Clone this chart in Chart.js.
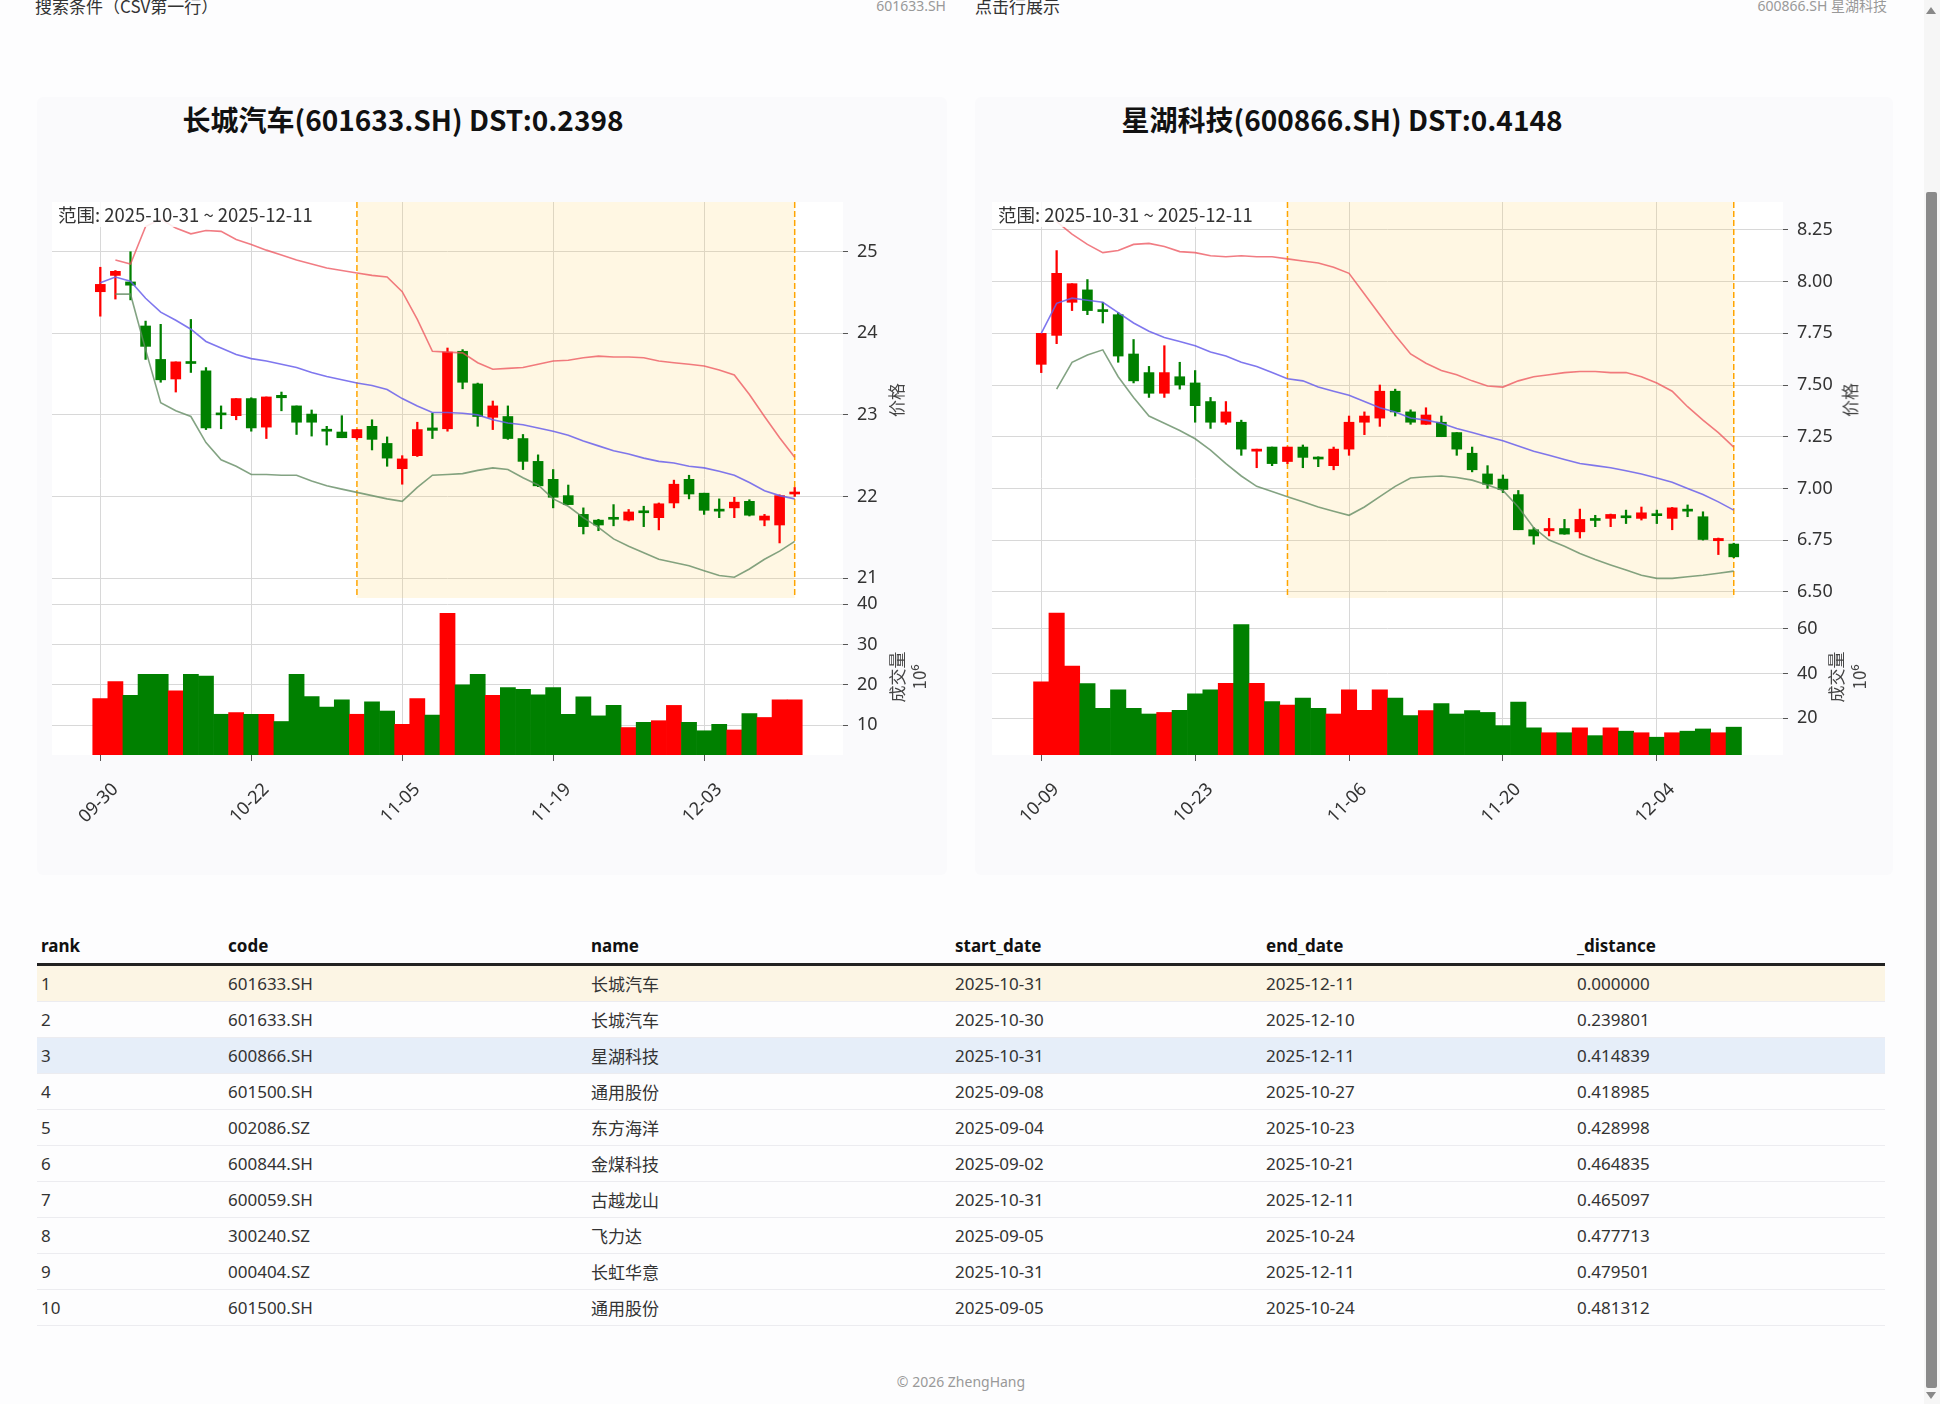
<!DOCTYPE html>
<html><head><meta charset="utf-8">
<script src="https://cdn.jsdelivr.net/npm/chart.js@4.4.1/dist/chart.umd.min.js"></script>
<style>
html,body{margin:0;padding:0;}
body{width:1940px;height:1404px;overflow:hidden;position:relative;background:#fdfdfe;font-family:'Noto Sans','Noto Sans CJK SC',sans-serif;color:#222;}
.abs{position:absolute;white-space:nowrap;}
.card{position:absolute;background:#fafafc;border-radius:6px;}
.title{position:absolute;font-family:'Noto Sans CJK SC','Noto Sans',sans-serif;font-weight:700;font-size:28px;color:#111;transform:translate(-50%,-50%);white-space:nowrap;}
.rot{position:absolute;transform:translate(-50%,-50%) rotate(-90deg);white-space:nowrap;font-family:'Noto Sans CJK SC','Noto Sans',sans-serif;color:#444;font-size:17px;}
canvas{position:absolute;}
table{position:absolute;left:37px;top:928px;width:1848px;border-collapse:collapse;table-layout:fixed;font-size:17px;font-family:'Noto Sans','Noto Sans CJK SC',sans-serif;}
th{text-align:left;font-weight:700;height:35px;padding:0 0 0 4px;border-bottom:3px solid #222;color:#111;}
td{height:35px;padding:0 0 0 4px;border-bottom:1px solid #ececf0;color:#333;}
</style></head>
<body>
<div class="abs" style="left:35px;top:-6px;font-size:17px;line-height:24px;color:#333;font-family:'Noto Sans CJK SC',sans-serif;">搜索条件（CSV第一行）</div>
<div class="abs" style="right:994px;top:-4px;font-size:14px;line-height:20px;color:#999;">601633.SH</div>
<div class="abs" style="left:975px;top:-6px;font-size:17px;line-height:24px;color:#333;font-family:'Noto Sans CJK SC',sans-serif;">点击行展示</div>
<div class="abs" style="right:53px;top:-4px;font-size:14px;line-height:20px;color:#999;font-family:'Noto Sans','Noto Sans CJK SC',sans-serif;">600866.SH 星湖科技</div>

<div class="card" style="left:37px;top:97px;width:910px;height:778px;"></div>
<div class="card" style="left:975px;top:97px;width:918px;height:778px;"></div>

<div class="title" style="left:403px;top:119px;">长城汽车(601633.SH) DST:0.2398</div>
<div class="title" style="left:1342px;top:119px;">星湖科技(600866.SH) DST:0.4148</div>

<canvas id="c1" width="870" height="640" style="left:40px;top:190px;"></canvas>
<canvas id="c2" width="870" height="640" style="left:980px;top:190px;"></canvas>

<div class="rot" style="left:895px;top:400px;">价格</div>
<div class="rot" style="left:896px;top:677px;">成交量</div>
<div class="rot" style="left:918px;top:677px;">10⁶</div>
<div class="rot" style="left:1849px;top:400px;">价格</div>
<div class="rot" style="left:1835px;top:677px;">成交量</div>
<div class="rot" style="left:1858px;top:677px;">10⁶</div>

<table id="tbl"></table>

<div class="abs" style="left:961px;top:1381px;transform:translate(-50%,-50%);font-size:14px;color:#999;">© 2026 ZhengHang</div>

<div style="position:absolute;left:1924px;top:0;width:16px;height:1404px;background:#f6f6f6;"></div>
<div style="position:absolute;left:1926px;top:192px;width:11px;height:1196px;background:#8a8a8a;border-radius:2px;"></div>
<div style="position:absolute;left:1926px;top:7px;width:0;height:0;border-left:5px solid transparent;border-right:5px solid transparent;border-bottom:7px solid #888;"></div>
<div style="position:absolute;left:1926px;top:1392px;width:0;height:0;border-left:5px solid transparent;border-right:5px solid transparent;border-top:7px solid #888;"></div>

<script>
// ---------------- DATA: 长城汽车 601633.SH ----------------
const L_DATES = ['09-30','10-09','10-10','10-13','10-14','10-15','10-16','10-17','10-20','10-21','10-22','10-23','10-24','10-27','10-28','10-29','10-30','10-31','11-03','11-04','11-05','11-06','11-07','11-10','11-11','11-12','11-13','11-14','11-17','11-18','11-19','11-20','11-21','11-24','11-25','11-26','11-27','11-28','12-01','12-02','12-03','12-04','12-05','12-08','12-09','12-10','12-11'];
const L_OPEN  = [24.51,24.71,24.63,24.09,23.68,23.44,23.65,23.54,23.01,22.99,23.20,22.85,23.24,23.11,23.01,22.82,22.79,22.72,22.86,22.65,22.34,22.50,22.84,22.83,23.78,23.38,22.97,22.98,22.71,22.43,22.21,22.01,21.78,21.71,21.73,21.71,21.81,21.74,21.92,22.21,22.04,21.83,21.86,21.94,21.71,21.65,22.03];
const L_HIGH  = [24.81,24.77,25.00,24.15,24.11,23.65,24.17,23.58,23.11,23.20,23.21,23.22,23.28,23.11,23.06,22.86,22.99,22.82,22.94,22.73,22.50,22.91,23.02,23.82,23.80,23.39,23.17,23.11,22.76,22.51,22.33,22.14,21.86,21.72,21.90,21.84,21.88,21.92,22.20,22.26,22.04,21.97,21.99,21.96,21.78,22.02,22.11];
const L_LOW   = [24.21,24.42,24.41,23.68,23.40,23.28,23.52,22.82,22.83,22.94,22.80,22.71,23.05,22.76,22.74,22.63,22.72,22.70,22.57,22.37,22.15,22.49,22.71,22.80,23.32,22.86,22.82,22.70,22.33,22.12,21.86,21.90,21.54,21.58,21.64,21.70,21.63,21.59,21.86,21.97,21.78,21.74,21.74,21.76,21.64,21.43,22.00];
const L_CLOSE = [24.60,24.76,24.59,23.84,23.43,23.65,23.63,22.84,23.00,23.20,22.84,23.22,23.21,22.91,22.91,22.80,22.72,22.82,22.70,22.47,22.46,22.82,22.81,23.77,23.40,22.98,23.11,22.71,22.43,22.13,21.99,21.90,21.63,21.65,21.72,21.81,21.80,21.91,22.15,22.03,21.83,21.82,21.93,21.77,21.76,22.01,22.05];
const L_VOL   = [16.6,20.8,17.4,22.6,22.6,18.5,22.6,22.2,12.7,13.1,12.7,12.7,10.9,22.6,17.1,14.5,16.3,12.7,15.8,13.5,10.2,16.6,12.5,37.8,20.0,22.6,17.4,19.3,18.9,17.5,19.3,12.7,17.0,12.3,14.9,9.4,10.7,11.1,14.9,10.7,8.6,10.2,8.8,12.9,11.9,16.3,16.3];
const L_BB_UP  = [null,24.90,24.85,25.31,25.40,25.29,25.22,25.26,25.25,25.15,25.09,25.02,24.96,24.90,24.85,24.80,24.77,24.74,24.71,24.69,24.51,24.17,23.78,23.77,23.76,23.64,23.56,23.57,23.58,23.62,23.66,23.67,23.70,23.72,23.71,23.71,23.70,23.66,23.64,23.62,23.60,23.55,23.49,23.25,22.98,22.72,22.48];
const L_BB_MID = [24.62,24.69,24.64,24.43,24.26,24.16,24.05,23.90,23.82,23.74,23.69,23.66,23.62,23.58,23.52,23.47,23.43,23.39,23.36,23.31,23.20,23.11,23.03,23.03,23.02,23.00,22.94,22.90,22.88,22.84,22.80,22.75,22.68,22.62,22.56,22.52,22.47,22.43,22.41,22.37,22.35,22.31,22.26,22.17,22.07,22.01,21.97];
const L_BB_LOW = [null,24.48,24.48,23.80,23.15,23.05,22.98,22.66,22.45,22.37,22.27,22.27,22.26,22.26,22.19,22.13,22.09,22.05,22.01,21.97,21.94,22.11,22.26,22.27,22.28,22.32,22.35,22.33,22.23,22.14,21.97,21.88,21.74,21.62,21.48,21.39,21.31,21.23,21.19,21.15,21.09,21.03,21.01,21.11,21.23,21.33,21.45];
const L_XTICKS = ['09-30','10-22','11-05','11-19','12-03'];
const L_PRICE_TICKS = [21,22,23,24,25];
const L_VOL_TICKS = [10,20,30,40];
const L_PRICE_RANGE = [20.755, 25.61];

// ---------------- DATA: 星湖科技 600866.SH ----------------
const R_DATES = ['10-09','10-10','10-13','10-14','10-15','10-16','10-17','10-20','10-21','10-22','10-23','10-24','10-27','10-28','10-29','10-30','10-31','11-03','11-04','11-05','11-06','11-07','11-10','11-11','11-12','11-13','11-14','11-17','11-18','11-19','11-20','11-21','11-24','11-25','11-26','11-27','11-28','12-01','12-02','12-03','12-04','12-05','12-08','12-09','12-10','12-11'];
const R_OPEN  = [7.60,7.74,7.90,7.96,7.86,7.84,7.65,7.56,7.46,7.54,7.51,7.42,7.32,7.32,7.18,7.20,7.13,7.20,7.148,7.11,7.19,7.32,7.34,7.47,7.37,7.31,7.32,7.27,7.17,7.07,7.045,6.97,6.80,6.795,6.806,6.79,6.85,6.855,6.862,6.855,6.873,6.855,6.895,6.863,6.747,6.731];
const R_HIGH  = [7.75,8.15,7.99,8.01,7.90,7.85,7.72,7.59,7.69,7.61,7.57,7.44,7.42,7.33,7.19,7.20,7.20,7.21,7.153,7.20,7.35,7.37,7.50,7.48,7.38,7.39,7.35,7.27,7.20,7.11,7.065,6.99,6.81,6.855,6.85,6.90,6.87,6.876,6.895,6.91,6.895,6.908,6.92,6.887,6.76,6.735];
const R_LOW   = [7.56,7.70,7.86,7.84,7.80,7.61,7.51,7.44,7.44,7.48,7.32,7.29,7.31,7.16,7.10,7.11,7.12,7.10,7.105,7.09,7.16,7.26,7.30,7.35,7.31,7.31,7.25,7.16,7.08,7.00,6.98,6.80,6.73,6.77,6.778,6.76,6.815,6.815,6.83,6.847,6.83,6.80,6.863,6.75,6.68,6.665];
const R_CLOSE = [7.75,8.04,7.99,7.86,7.855,7.64,7.52,7.46,7.56,7.50,7.40,7.32,7.37,7.19,7.19,7.12,7.20,7.15,7.142,7.19,7.32,7.35,7.47,7.37,7.32,7.355,7.25,7.19,7.09,7.02,6.995,6.80,6.77,6.806,6.779,6.85,6.845,6.874,6.858,6.882,6.868,6.906,6.89,6.753,6.758,6.669];
const R_VOL   = [36.2,67.1,43.3,35.4,24.3,32.6,24.3,21.8,22.5,23.5,30.9,32.6,35.6,61.9,35.6,27.4,25.8,28.9,24.3,21.8,32.6,23.5,32.6,28.9,21.1,23.3,26.5,21.8,23.3,22.5,16.6,27.2,15.6,13.4,13.4,15.6,12.1,15.6,14.1,13.4,11.4,13.4,14.1,15.1,13.4,15.9];
const R_BB_UP  = [null,8.29,8.23,8.18,8.14,8.15,8.18,8.185,8.17,8.145,8.14,8.125,8.12,8.125,8.12,8.12,8.11,8.10,8.09,8.07,8.04,7.94,7.84,7.74,7.65,7.605,7.57,7.55,7.52,7.495,7.49,7.52,7.54,7.55,7.56,7.565,7.565,7.56,7.56,7.54,7.51,7.47,7.395,7.33,7.27,7.20];
const R_BB_MID = [7.75,7.895,7.92,7.91,7.90,7.85,7.80,7.76,7.73,7.71,7.69,7.66,7.64,7.61,7.59,7.56,7.53,7.52,7.49,7.47,7.45,7.42,7.39,7.37,7.34,7.33,7.315,7.29,7.27,7.25,7.23,7.205,7.18,7.16,7.14,7.12,7.11,7.10,7.085,7.07,7.05,7.03,7.00,6.97,6.935,6.895];
const R_BB_LOW = [null,7.48,7.61,7.645,7.67,7.54,7.44,7.35,7.315,7.28,7.24,7.185,7.12,7.06,7.01,6.985,6.96,6.935,6.91,6.89,6.87,6.91,6.96,7.01,7.05,7.056,7.06,7.053,7.04,7.016,6.99,6.91,6.81,6.75,6.72,6.685,6.656,6.63,6.605,6.58,6.565,6.565,6.573,6.58,6.59,6.60];
const R_XTICKS = ['10-09','10-23','11-06','11-20','12-04'];
const R_PRICE_TICKS = [6.50,6.75,7.00,7.25,7.50,7.75,8.00,8.25];
const R_VOL_TICKS = [20,40,60];
const R_PRICE_RANGE = [6.47, 8.385];

// shared search window
const RANGE_START = '2025-10-31';
const RANGE_END = '2025-12-11';

// ---------------- TABLE ----------------
const T_HEAD = ['rank','code','name','start_date','end_date','_distance'];
const T_RANK = [1,2,3,4,5,6,7,8,9,10];
const T_CODE = ['601633.SH','601633.SH','600866.SH','601500.SH','002086.SZ','600844.SH','600059.SH','300240.SZ','000404.SZ','601500.SH'];
const T_NAME = ['长城汽车','长城汽车','星湖科技','通用股份','东方海洋','金煤科技','古越龙山','飞力达','长虹华意','通用股份'];
const T_START = ['2025-10-31','2025-10-30','2025-10-31','2025-09-08','2025-09-04','2025-09-02','2025-10-31','2025-09-05','2025-10-31','2025-09-05'];
const T_END = ['2025-12-11','2025-12-10','2025-12-11','2025-10-27','2025-10-23','2025-10-21','2025-12-11','2025-10-24','2025-12-11','2025-10-24'];
const T_DIST = ['0.000000','0.239801','0.414839','0.418985','0.428998','0.464835','0.465097','0.477713','0.479501','0.481312'];

// build table
(function(){
  const widths = [187,363,364,311,311,312];
  let h = '<colgroup>' + widths.map(w => `<col style="width:${w}px">`).join('') + '</colgroup>';
  h += '<tr>' + T_HEAD.map(c => `<th>${c}</th>`).join('') + '</tr>';
  T_RANK.forEach((r, i) => {
    const bg = i === 0 ? '#fcf5e4' : (i === 2 ? '#e6eef9' : 'transparent');
    h += `<tr style="background:${bg}"><td>${r}</td><td>${T_CODE[i]}</td><td style="font-family:'Noto Sans CJK SC',sans-serif">${T_NAME[i]}</td><td>${T_START[i]}</td><td>${T_END[i]}</td><td>${T_DIST[i]}</td></tr>`;
  });
  document.getElementById('tbl').innerHTML = h;
})();

// ---------------- CHARTS ----------------
const RED = '#ff0000', GREEN = '#008000';
Chart.defaults.font.family = "'Noto Sans','Noto Sans CJK SC',sans-serif";
Chart.defaults.font.size = 17;
Chart.defaults.color = '#333';

function noPad(s) { s.paddingTop = 0; s.paddingBottom = 0; s.paddingLeft = 0; s.paddingRight = 0; }

function makeChart(id, d) {
  const n = d.dates.length;
  const labels = d.dates.map((_, i) => i);
  const cols = d.close.map((c, i) => c >= d.open[i] ? RED : GREEN);
  const wick = d.low.map((l, i) => [l, d.high[i]]);
  const body = d.open.map((o, i) => [o, d.close[i]]);
  const xt = d.xticks.map(t => d.dates.indexOf(t));
  const rs = d.dates.indexOf(RANGE_START.slice(5));
  const re = d.dates.indexOf(RANGE_END.slice(5));
  const vmin = 0.3 * Math.min(...d.vol), vmax = 1.1 * Math.max(...d.vol);
  const lineDs = (data, color) => ({type:'line', data, yAxisID:'yp', borderColor:color, borderWidth:1.6, pointRadius:0, fill:false, tension:0, order:0, spanGaps:false});

  const plugin = {
    id: 'deco_' + id,
    beforeDraw(chart) {
      const a = chart.chartArea, ctx = chart.ctx;
      ctx.save(); ctx.fillStyle = '#ffffff'; ctx.fillRect(a.left, a.top, a.right - a.left, a.bottom - a.top); ctx.restore();
    },
    beforeDatasetsDraw(chart) {
      const ctx = chart.ctx, x = chart.scales.x, yp = chart.scales.yp;
      const x0 = x.getPixelForValue(rs), x1 = x.getPixelForValue(re);
      ctx.save();
      ctx.fillStyle = 'rgba(255,205,90,0.17)';
      ctx.fillRect(x0, yp.top, x1 - x0, yp.bottom - yp.top);
      ctx.strokeStyle = '#ffa500'; ctx.lineWidth = 1.5; ctx.setLineDash([6, 3]);
      [x0, x1].forEach(px => { ctx.beginPath(); ctx.moveTo(px, yp.top); ctx.lineTo(px, yp.bottom); ctx.stroke(); });
      ctx.restore();
    },
    afterDatasetsDraw(chart) {
      const ctx = chart.ctx, a = chart.chartArea;
      const txt = '范围: ' + RANGE_START + ' ~ ' + RANGE_END;
      ctx.save();
      ctx.font = "18.5px 'Noto Sans CJK SC','Noto Sans',sans-serif";
      const w = ctx.measureText(txt).width;
      ctx.fillStyle = 'rgba(255,255,255,0.85)';
      ctx.fillRect(a.left + 3, a.top, w + 10, 25);
      ctx.fillStyle = '#333'; ctx.textBaseline = 'middle';
      ctx.fillText(txt, a.left + 6, a.top + 13);
      ctx.restore();
    }
  };

  const gridCol = '#d8d8d8', tickCol = '#555';
  return new Chart(document.getElementById(id), {
    type: 'bar',
    data: {
      labels,
      datasets: [
        lineDs(d.bbUp, 'rgba(236,80,90,0.75)'),
        lineDs(d.bbMid, 'rgba(105,95,235,0.85)'),
        lineDs(d.bbLow, 'rgba(100,140,100,0.8)'),
        {type:'bar', data: wick, yAxisID:'yp', backgroundColor: cols, barThickness: 1.6, grouped:false, order:2},
        {type:'bar', data: body, yAxisID:'yp', backgroundColor: cols, barThickness: 10, minBarLength: 2, grouped:false, order:1},
        {type:'bar', data: d.vol, yAxisID:'yv', backgroundColor: cols, barPercentage: 1, categoryPercentage: 1, grouped:false, order:3}
      ]
    },
    options: {
      responsive: false, animation: false,
      layout: {padding: {left: 12, top: 12, right: 10, bottom: 0}},
      plugins: {legend: {display:false}, tooltip: {enabled:false}},
      scales: {
        x: {
          type: 'linear', min: -3.2, max: n - 1 + 3.2, offset: false,
          afterBuildTicks: ax => { ax.ticks = xt.map(v => ({value: v})); },
          ticks: {callback: v => d.dates[v], autoSkip: false, maxRotation: 45, minRotation: 45, labelOffset: 15, padding: 18, color:'#333', font:{size:18}},
          grid: {color: gridCol, tickColor: tickCol, tickLength: 6, offset: false},
          border: {display: false},
          afterFit: s => { s.height = 75; noPad(s); }
        },
        yp: {
          type: 'linear', position: 'right', stack: 'p', stackWeight: 396,
          min: d.prange[0], max: d.prange[1],
          afterBuildTicks: ax => { ax.ticks = d.pticks.map(v => ({value: v})); },
          ticks: {callback: v => d.pdec ? v.toFixed(2) : String(v), padding: 9, color:'#333', font:{size:18}},
          grid: {color: gridCol, tickColor: tickCol, tickLength: 5},
          border: {display: false},
          afterFit: s => { s.width = 57; noPad(s); }
        },
        yv: {
          type: 'linear', position: 'right', stack: 'p', stackWeight: 157,
          min: vmin, max: vmax,
          afterBuildTicks: ax => { ax.ticks = d.vticks.map(v => ({value: v})); },
          ticks: {callback: v => String(v), padding: 9, color:'#333', font:{size:18}},
          grid: {color: gridCol, tickColor: tickCol, tickLength: 5},
          border: {display: false},
          afterFit: s => { s.width = 57; noPad(s); }
        }
      }
    },
    plugins: [plugin]
  });
}

makeChart('c1', {dates:L_DATES, open:L_OPEN, high:L_HIGH, low:L_LOW, close:L_CLOSE, vol:L_VOL, bbUp:L_BB_UP, bbMid:L_BB_MID, bbLow:L_BB_LOW, xticks:L_XTICKS, pticks:L_PRICE_TICKS, vticks:L_VOL_TICKS, prange:L_PRICE_RANGE, pdec:false});
makeChart('c2', {dates:R_DATES, open:R_OPEN, high:R_HIGH, low:R_LOW, close:R_CLOSE, vol:R_VOL, bbUp:R_BB_UP, bbMid:R_BB_MID, bbLow:R_BB_LOW, xticks:R_XTICKS, pticks:R_PRICE_TICKS, vticks:R_VOL_TICKS, prange:R_PRICE_RANGE, pdec:true});
</script>
</body></html>
